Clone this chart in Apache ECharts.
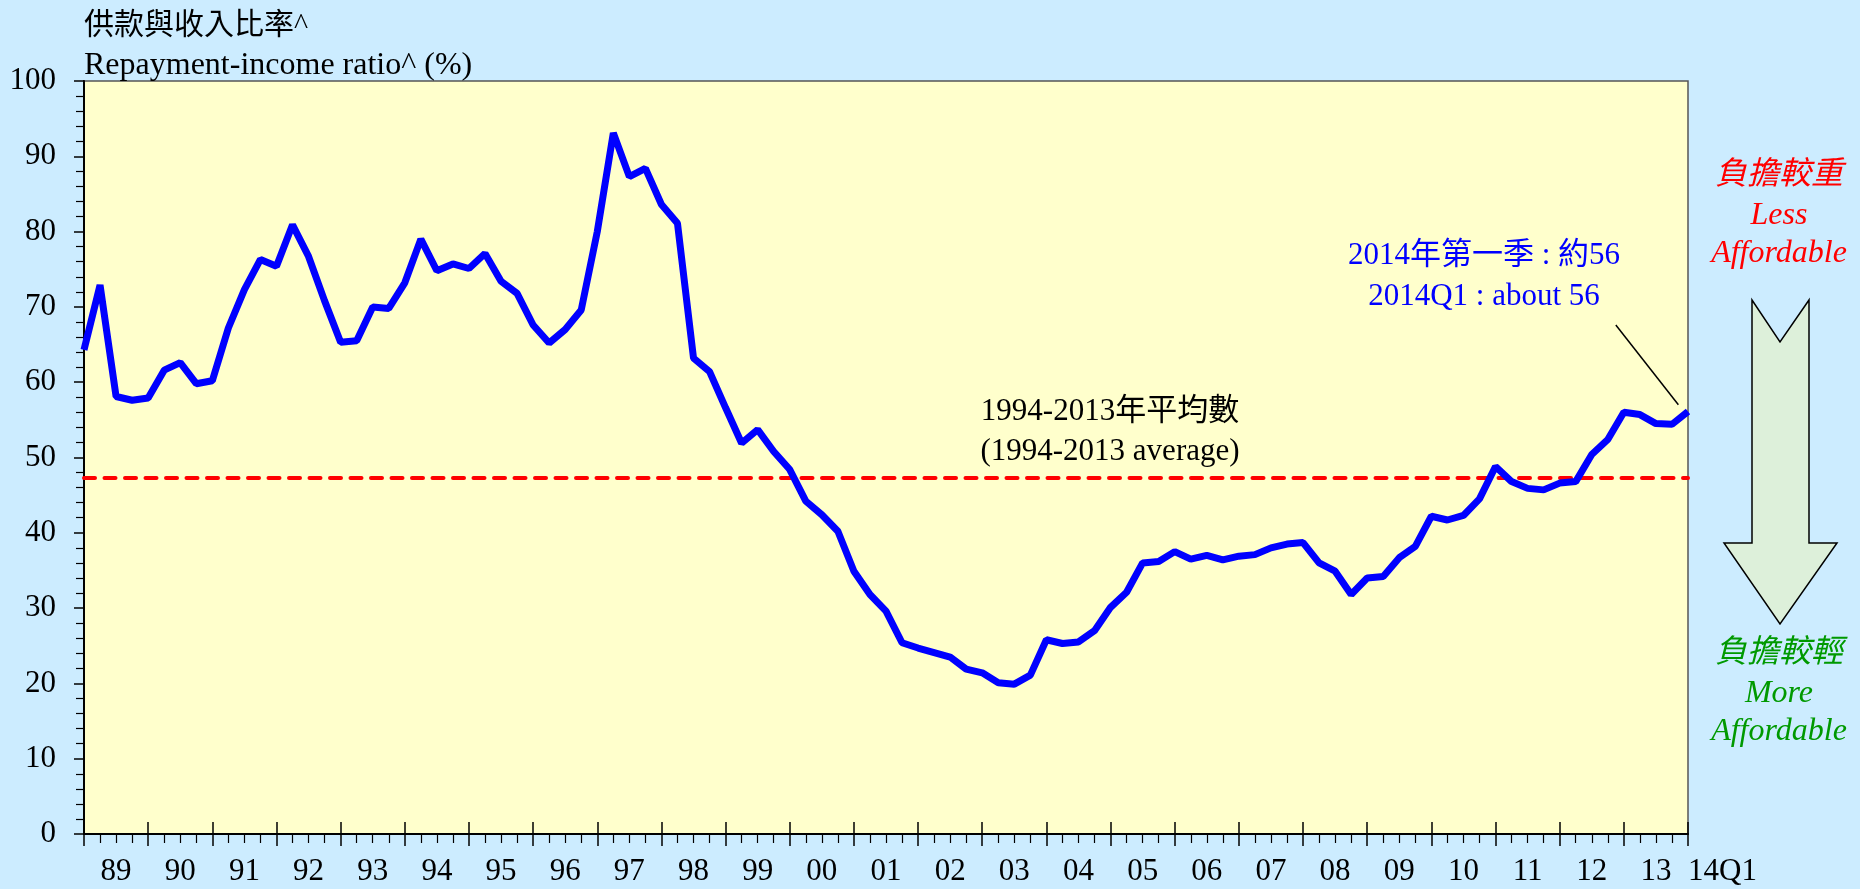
<!DOCTYPE html>
<html>
<head>
<meta charset="utf-8">
<title>Repayment-income ratio</title>
<script src="https://cdn.jsdelivr.net/npm/echarts/dist/echarts.min.js"></script>
<style>
  html, body { margin: 0; padding: 0; background: #CCECFF; }
  #chart { width: 1860px; height: 889px; }
</style>
</head>
<body>
<div id="chart"></div>
<script>
// year bands on the x axis (each band = 4 quarters), last point is 14Q1
var years = ['89', '90', '91', '92', '93', '94', '95', '96', '97', '98', '99', '00',
    '01', '02', '03', '04', '05', '06', '07', '08', '09', '10', '11', '12', '13'];
var lastLabel = '14Q1';

// quarterly repayment-income ratio, 1989Q1 .. 2014Q1
var ratio = [
    64.3, 72.9, 58.1, 57.6,   // 89
    57.9, 61.6, 62.6, 59.8,   // 90
    60.2, 67.2, 72.3, 76.3,   // 91
    75.4, 80.9, 76.7, 70.8,   // 92
    65.3, 65.5, 70.0, 69.8,   // 93
    73.2, 79.0, 74.8, 75.7,   // 94
    75.1, 77.1, 73.4, 71.8,   // 95
    67.6, 65.2, 67.0, 69.6,   // 96
    80.0, 93.1, 87.3, 88.4,   // 97
    83.6, 81.1, 63.2, 61.4,   // 98
    56.6, 51.9, 53.7, 50.8,   // 99
    48.4, 44.2, 42.4, 40.2,   // 00
    34.9, 31.8, 29.6, 25.4,   // 01
    24.7, 24.1, 23.5, 21.9,   // 02
    21.4, 20.1, 19.9, 21.1,   // 03
    25.8, 25.3, 25.5, 27.0,   // 04
    30.1, 32.1, 36.0, 36.2,   // 05
    37.5, 36.5, 37.0, 36.4,   // 06
    36.9, 37.1, 38.0, 38.5,   // 07
    38.7, 36.0, 34.9, 31.8,   // 08
    34.0, 34.2, 36.7, 38.2,   // 09
    42.2, 41.7, 42.3, 44.5,   // 10
    48.8, 46.8, 45.9, 45.7,   // 11
    46.6, 46.8, 50.4, 52.4,   // 12
    56.0, 55.7, 54.5, 54.4,   // 13
    56.1                      // 14Q1
];

var average = 47.3;   // 1994-2013 average

var serif = "'Liberation Serif', 'Times New Roman', 'Noto Sans CJK TC', serif";
var nQ = ratio.length - 1;

var points = [];
for (var i = 0; i < ratio.length; i++) {
    points.push([i, ratio[i]]);
}

function txt(text, x, y, size, color, italic, align) {
    return {
        type: 'text',
        x: x,
        y: y,
        silent: true,
        style: {
            text: text,
            fill: color,
            font: (italic ? 'italic ' : '') + size + 'px ' + serif,
            align: align || 'center',
            verticalAlign: 'middle',
            textAlign: align || 'center',
            textVerticalAlign: 'middle'
        }
    };
}

var chart = echarts.init(document.getElementById('chart'), null, { renderer: 'canvas' });

var option = {
    backgroundColor: '#CCECFF',
    animation: false,
    grid: {
        left: 84,
        right: 172,
        top: 81,
        bottom: 55,
        show: true,
        backgroundColor: '#FFFFCC',
        borderColor: '#555555',
        borderWidth: 1.5,
        containLabel: false,
        outerBoundsMode: 'none'
    },
    xAxis: [
        {
            type: 'value',
            min: 0,
            max: nQ,
            interval: 4,
            position: 'bottom',
            axisLine: { show: true, onZero: false, lineStyle: { color: '#000', width: 2 } },
            axisTick: { show: true, length: 12, lineStyle: { color: '#000', width: 1.5 } },
            minorTick: { show: true, splitNumber: 4, length: 9, lineStyle: { color: '#000', width: 1.2 } },
            splitLine: { show: false },
            minorSplitLine: { show: false },
            axisLabel: {
                margin: 22,
                align: 'left',
                color: '#000',
                fontSize: 31,
                fontFamily: serif,
                showMinLabel: true,
                showMaxLabel: true,
                formatter: function (v) { return v === nQ ? lastLabel : ''; }
            }
        },
        {
            type: 'category',
            data: years,
            boundaryGap: true,
            position: 'bottom',
            offset: 0,
            axisLine: { show: false },
            axisTick: { show: true, inside: true, length: 12, interval: 0, lineStyle: { color: '#000', width: 1.5 } },
            splitLine: { show: false },
            axisLabel: {
                interval: 0,
                margin: 22,
                color: '#000',
                fontSize: 31,
                fontFamily: serif
            }
        }
    ],
    yAxis: {
        type: 'value',
        min: 0,
        max: 100,
        interval: 10,
        axisLine: { show: true, lineStyle: { color: '#000', width: 2 } },
        axisTick: { show: true, length: 10, lineStyle: { color: '#000', width: 1.5 } },
        minorTick: { show: true, splitNumber: 5, length: 8, lineStyle: { color: '#000', width: 1.2 } },
        splitLine: { show: false },
        axisLabel: {
            margin: 28,
            color: '#000',
            fontSize: 31,
            fontFamily: serif
        }
    },
    series: [
        {
            type: 'line',
            xAxisIndex: 0,
            data: points,
            symbol: 'none',
            lineStyle: { color: '#0000FF', width: 7 },
            z: 5,
            markLine: {
                silent: true,
                symbol: 'none',
                label: { show: false },
                animation: false,
                data: [
                    {
                        yAxis: average,
                        lineStyle: { color: '#FF0000', width: 4, type: [11, 9.5], cap: 'round' }
                    },
                    [
                        { coord: [95.5, 67.6], lineStyle: { color: '#000', width: 1.5, type: 'solid' } },
                        { coord: [99.4, 57.0] }
                    ]
                ]
            }
        }
    ],
    graphic: [
        txt('供款與收入比率^', 84, 26, 30, '#000', false, 'left'),
        txt('Repayment-income ratio^ (%)', 84, 66, 32, '#000', false, 'left'),
        txt('1994-2013年平均數', 1110, 412, 31, '#000'),
        txt('(1994-2013 average)', 1110, 452, 31, '#000'),
        txt('2014年第一季 : 約56', 1484, 256, 31, '#0000FF'),
        txt('2014Q1 : about 56', 1484, 297, 31, '#0000FF'),
        txt('負擔較重', 1779, 176, 32, '#FF0000', true),
        txt('Less', 1779, 216, 32, '#FF0000', true),
        txt('Affordable', 1779, 254, 32, '#FF0000', true),
        txt('負擔較輕', 1779, 654, 32, '#009900', true),
        txt('More', 1779, 694, 32, '#009900', true),
        txt('Affordable', 1779, 732, 32, '#009900', true),
        {
            type: 'polygon',
            silent: true,
            shape: {
                points: [[1752, 300], [1780, 342], [1809, 300], [1809, 543],
                    [1837, 543], [1780, 624], [1724, 543], [1752, 543]]
            },
            style: { fill: '#DDF0DA', stroke: '#000', lineWidth: 1.5 }
        }
    ]
};

option && chart.setOption(option);
</script>
</body>
</html>
